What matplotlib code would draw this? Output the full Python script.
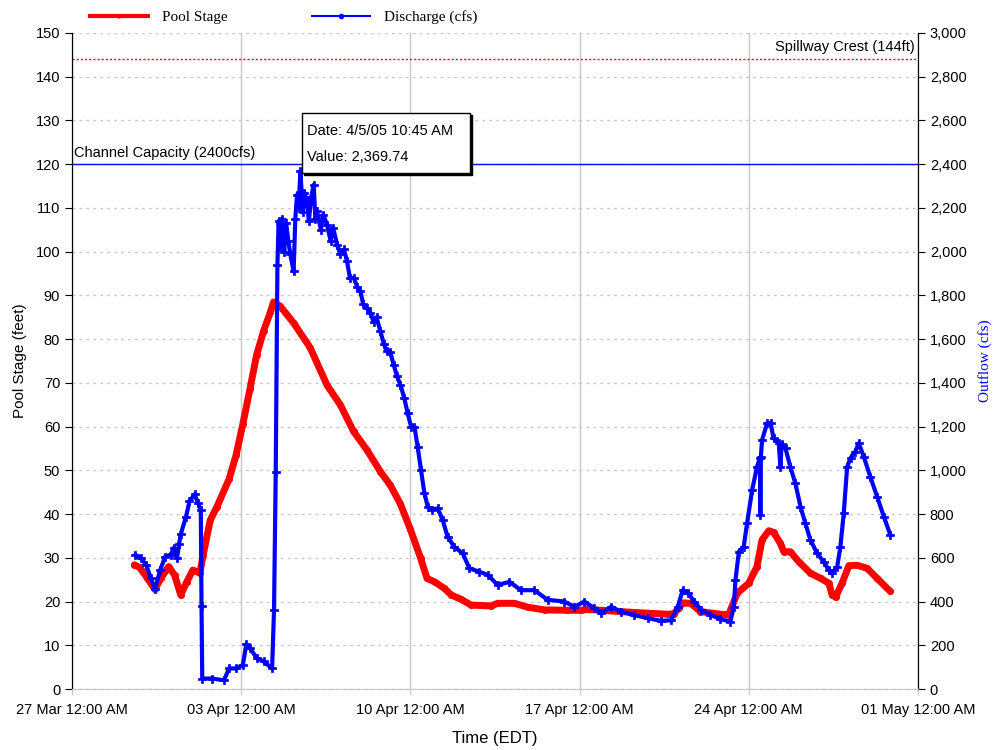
import matplotlib
matplotlib.use("Agg")
import matplotlib.pyplot as plt
import matplotlib.dates as mdates
import matplotlib.transforms as mtransforms
from matplotlib.patches import Rectangle
from matplotlib.lines import Line2D
import pandas as pd

# ---- data (days after 27 Mar 2005 00:00) ----
start = pd.Timestamp("2005-03-27 00:00")
end = pd.Timestamp("2005-05-01 00:00")
tick_dates = ["2005-03-27", "2005-04-03", "2005-04-10", "2005-04-17", "2005-04-24", "2005-05-01"]

stage_days = [2.58, 2.8, 3.1, 3.43, 3.7, 4.0, 4.25, 4.5, 4.75, 5.0, 5.29, 5.43, 5.72, 6.0,
              6.5, 6.79, 7.07, 7.36, 7.64, 7.93, 8.21, 8.34, 8.62, 9.17, 9.86, 10.55, 11.1,
              11.65, 12.2, 12.76, 13.17, 13.59, 14.0, 14.42, 14.69, 15.0, 15.41, 15.69, 16.1,
              16.51, 17.34, 17.61, 18.3, 18.86, 19.55, 20.5, 21.06, 21.34, 21.9, 23.27, 24.65,
              24.9, 25.1, 25.26, 25.6, 26.0, 26.83, 27.17, 27.52, 28.0, 28.34, 28.55, 28.83,
              29.03, 29.31, 29.45, 29.72, 30.07, 30.55, 30.97, 31.31, 31.45, 31.59, 31.86,
              32.14, 32.48, 32.9, 33.31, 33.86]
stage_ft = [28.4, 27.8, 25.5, 22.8, 25.5, 28.0, 26.0, 21.5, 24.5, 27.2, 26.5, 30.7, 38.6, 41.7,
            48.0, 53.5, 60.6, 68.5, 76.4, 81.9, 86.2, 88.5, 87.5, 83.7, 78.0, 69.5, 65.0,
            58.9, 54.7, 49.7, 46.6, 42.3, 36.5, 30.0, 25.3, 24.5, 23.0, 21.5, 20.5,
            19.2, 19.0, 19.6, 19.6, 18.7, 18.1, 18.0, 18.0, 18.2, 18.0, 17.5, 17.1,
            17.2, 18.5, 19.7, 19.6, 17.7, 17.1, 17.0, 21.9, 24.2, 28.0, 34.1, 36.2,
            35.8, 33.3, 31.4, 31.4, 29.1, 26.5, 25.3, 24.2, 21.5, 21.0, 24.2,
            28.2, 28.3, 27.6, 25.3, 22.3]

flow_days = [2.62, 2.86, 3.08, 3.25, 3.43, 3.65, 3.86, 4.08, 4.22, 4.35, 4.43, 4.5, 4.72, 4.86,
             5.07, 5.22, 5.33, 5.36, 5.39, 5.79, 6.29, 6.5, 6.79, 7.07, 7.21, 7.36, 7.64, 7.93,
             8.28, 8.36, 8.43, 8.5, 8.55, 8.62, 8.7, 8.78, 8.86, 8.95, 9.03, 9.17, 9.24, 9.31,
             9.38, 9.45, 9.55, 9.62, 9.72, 9.8, 9.9, 10.0, 10.07, 10.14, 10.3, 10.4, 10.55,
             10.7, 10.8, 10.97, 11.1, 11.25, 11.38, 11.5, 11.66, 11.8, 11.93, 12.05, 12.2,
             12.35, 12.48, 12.6, 12.76, 12.9, 13.03, 13.17, 13.31, 13.45, 13.59, 13.75, 13.89,
             14.03, 14.17, 14.3, 14.44, 14.58, 14.72, 14.9, 15.13, 15.34, 15.54, 15.82, 16.17,
             16.44, 16.86, 17.2, 17.61, 18.1, 18.58, 19.13, 19.68, 20.37, 20.79, 21.2, 21.61,
             21.89, 22.3, 22.72, 23.27, 23.82, 24.37, 24.79, 25.06, 25.27, 25.48, 25.75, 26.03,
             26.4, 26.83, 27.24, 27.38, 27.45, 27.59, 27.79, 27.93, 28.14, 28.34, 28.46, 28.48,
             28.5, 28.55, 28.76, 28.9, 29.03, 29.24, 29.31, 29.36, 29.52, 29.72, 29.93, 30.14,
             30.34, 30.55, 30.83, 31.1, 31.31, 31.45, 31.66, 31.79, 31.93, 32.07, 32.21, 32.41,
             32.55, 32.76, 33.03, 33.31, 33.59, 33.86]
flow_cfs = [614, 598, 566, 510, 456, 544, 606, 614, 646, 600, 662, 708, 788, 858,
            890, 850, 818, 378, 48, 48, 40, 94, 94, 110, 204, 188, 142, 126,
            94, 362, 992, 1938, 2140, 2020, 2150, 2000, 2130, 2050, 1990, 1910, 2150, 2260,
            2200, 2370, 2180, 2270, 2230, 2140, 2250, 2306, 2150, 2184, 2100, 2170, 2124,
            2050, 2110, 2032, 1990, 2010, 1956, 1880, 1880, 1840, 1820, 1760, 1742,
            1720, 1680, 1700, 1636, 1580, 1544, 1540, 1482, 1430, 1390, 1330, 1260,
            1200, 1200, 1108, 1002, 896, 834, 820, 826, 772, 696, 650, 620,
            552, 536, 522, 476, 490, 452, 452, 408, 400, 376, 400, 370,
            346, 376, 354, 338, 324, 312, 314, 376, 452, 440, 400, 362,
            340, 320, 308, 376, 498, 628, 650, 758, 910, 1016, 1056, 796,
            1060, 1138, 1216, 1216, 1146, 1124, 1016, 1120, 1100, 1016, 940, 834,
            758, 682, 620, 582, 544, 530, 560, 650, 804, 1016, 1056, 1086,
            1124, 1062, 970, 880, 788, 704]

spillway_ft = 144
channel_cfs = 2400
tip_date = "4/5/05 10:45 AM"
tip_value = "2,369.74"

stage_t = start + pd.to_timedelta(stage_days, unit="D")
flow_t = start + pd.to_timedelta(flow_days, unit="D")

SANS = ["Liberation Sans", "DejaVu Sans"]
SERIF = ["Liberation Serif", "DejaVu Serif"]
grid_c = "#c8c8c8"

fig = plt.figure(figsize=(9.94, 7.5), dpi=100)
ax = fig.add_axes([0.0724, 0.0813, 0.8511, 0.8747])
ax2 = ax.twinx()

ax.plot(stage_t, stage_ft, color="red", lw=5, marker="o", ms=4, zorder=3,
        solid_joinstyle="round", solid_capstyle="round")
ax2.plot(flow_t, flow_cfs, color="blue", lw=3, marker="P", ms=6, mew=0.5, zorder=3,
         solid_joinstyle="round")

ax.set_xlim(start, end)
ax.set_ylim(0, 150)
ax2.set_ylim(0, 3000)
ax.set_yticks(range(0, 151, 10))
ax2.set_yticks(range(0, 3001, 200))
ax2.yaxis.set_major_formatter("{x:,.0f}")

ax.set_xticks(pd.to_datetime(tick_dates))
ax.xaxis.set_major_formatter(mdates.DateFormatter("%d %b %I:%M %p"))

# grid
ax.grid(axis="y", color=grid_c, ls=(0, (2, 3)), lw=1)
ax.grid(axis="x", color=grid_c, ls="-", lw=1)
ax.set_axisbelow(True)

# reference lines
ax.axhline(spillway_ft, color="red", ls=(0, (1.5, 1.5)), lw=1, zorder=2)
ax2.axhline(channel_cfs, color="blue", lw=1, zorder=2)
ax.text(0.996, spillway_ft + 1.2, "Spillway Crest (144ft)", transform=ax.get_yaxis_transform(),
        ha="right", va="bottom", fontsize=10.5, family=SANS)
ax2.text(0.002, channel_cfs + 18, "Channel Capacity (2400cfs)", transform=ax2.get_yaxis_transform(),
         ha="left", va="bottom", fontsize=10.5, family=SANS)

# spines / ticks
for a in (ax, ax2):
    a.spines["top"].set_visible(False)
    a.spines["bottom"].set_color(grid_c)
    a.spines["left"].set_color("black")
    a.spines["right"].set_color("black")
ax.tick_params(axis="y", direction="out", length=5, labelsize=10.5)
ax2.tick_params(axis="y", direction="out", length=5, labelsize=10.5)
ax.tick_params(axis="x", direction="out", length=4, color=grid_c, labelsize=10.5, pad=6)
for lab in ax.get_yticklabels() + ax2.get_yticklabels() + ax.get_xticklabels():
    lab.set_family(SANS)

ax.set_ylabel("Pool Stage (feet)", fontsize=11, family=SANS, labelpad=6)
ax.set_xlabel("Time (EDT)", fontsize=12, family=SANS, labelpad=10)
ax2.set_ylabel("Outflow (cfs)", fontsize=11, family=SERIF, color="blue", labelpad=8)

# tooltip box
x0, y0, w, h = 0.272, 0.787, 0.199, 0.0915
shadow_tr = mtransforms.offset_copy(ax2.transAxes, fig=fig, x=2, y=-2, units="dots")
ax2.add_patch(Rectangle((x0, y0), w, h, transform=shadow_tr, facecolor="black",
                        edgecolor="black", zorder=9, clip_on=False))
ax2.add_patch(Rectangle((x0, y0), w, h, transform=ax2.transAxes, facecolor="white",
                        edgecolor="black", lw=1, zorder=10, clip_on=False))
ax2.text(x0 + 0.006, y0 + h * 0.7, "Date: " + tip_date, transform=ax2.transAxes,
         va="center", ha="left", fontsize=10.5, family=SANS, zorder=11)
ax2.text(x0 + 0.006, y0 + h * 0.27, "Value: " + tip_value, transform=ax2.transAxes,
         va="center", ha="left", fontsize=10.5, family=SANS, zorder=11)

# legend above plot
handles = [Line2D([], [], color="red", lw=3, marker="o", ms=2),
           Line2D([], [], color="blue", lw=1.5, marker="o", ms=3)]
fig.legend(handles, ["Pool Stage", "Discharge (cfs)"], loc="center left",
           bbox_to_anchor=(0.077, 0.977), ncol=2, frameon=False, handlelength=3.8,
           columnspacing=5.5, handletextpad=0.9, prop={"family": SERIF, "size": 11})

fig.savefig("out.png", dpi=100)
